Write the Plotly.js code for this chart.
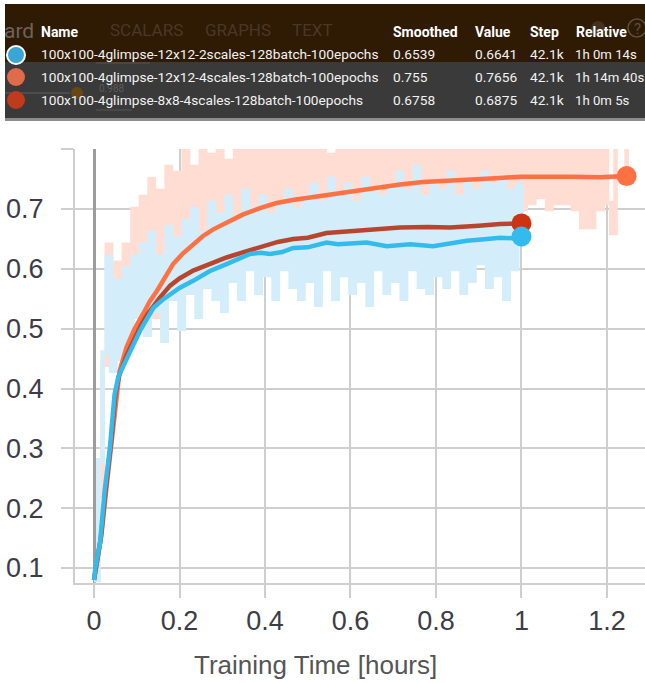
<!DOCTYPE html>
<html><head><meta charset="utf-8">
<script src="https://cdn.plot.ly/plotly-3.0.1.min.js"></script>
<style>html,body{margin:0;padding:0;background:#fff;overflow:hidden}#chart{width:645px;height:683px}</style>
</head><body><div id="chart"></div>
<script>
// ---- data ----
const runNames = ['100x100-4glimpse-12x12-2scales-128batch-100epochs','100x100-4glimpse-12x12-4scales-128batch-100epochs','100x100-4glimpse-8x8-4scales-128batch-100epochs'];
const smoothedCol = ['0.6539','0.755','0.6758'];
const valueCol = ['0.6641','0.7656','0.6875'];
const stepCol = ['42.1k','42.1k','42.1k'];
const relativeCol = ['1h 0m 14s','1h 14m 40s','1h 0m 5s'];

const xTickVals = [0,0.2,0.4,0.6,0.8,1,1.2];
const xTickText = ['0','0.2','0.4','0.6','0.8','1','1.2'];
const yTickVals = [0.1,0.2,0.3,0.4,0.5,0.6,0.7,0.8];
const yTickText = ['0.1','0.2','0.3','0.4','0.5','0.6','0.7',''];

// smoothed curves
const blueT = [0,0.003,0.014,0.025,0.037,0.048,0.057,0.076,0.09,0.108,0.125,0.139,0.16,0.178,0.2,0.232,0.27,0.31,0.34,0.365,0.39,0.412,0.44,0.466,0.5,0.544,0.57,0.6,0.638,0.685,0.74,0.793,0.84,0.872,0.92,0.95,0.98,1.0];
const blueV = [0.08,0.1,0.142,0.23,0.30,0.39,0.42,0.447,0.47,0.497,0.518,0.535,0.548,0.558,0.568,0.58,0.596,0.608,0.617,0.625,0.627,0.625,0.628,0.635,0.636,0.644,0.641,0.642,0.644,0.638,0.641,0.638,0.643,0.647,0.65,0.652,0.651,0.654];
const redT = [0,0.004,0.016,0.027,0.04,0.05,0.058,0.076,0.09,0.108,0.125,0.139,0.154,0.178,0.2,0.232,0.27,0.31,0.35,0.388,0.43,0.466,0.5,0.544,0.6,0.66,0.716,0.78,0.833,0.9,0.95,1.0];
const redV = [0.08,0.1,0.15,0.23,0.31,0.39,0.42,0.455,0.478,0.503,0.524,0.538,0.552,0.572,0.584,0.597,0.608,0.619,0.628,0.636,0.645,0.65,0.652,0.66,0.663,0.666,0.669,0.67,0.669,0.672,0.675,0.676];
const orangeT = [0,0.005,0.018,0.03,0.042,0.053,0.06,0.076,0.095,0.115,0.13,0.147,0.165,0.185,0.207,0.232,0.255,0.279,0.31,0.349,0.39,0.427,0.465,0.505,0.55,0.6,0.65,0.716,0.77,0.833,0.9,0.95,1.0,1.067,1.12,1.184,1.22,1.246];
const orangeV = [0.08,0.1,0.16,0.24,0.32,0.4,0.43,0.469,0.5,0.525,0.545,0.563,0.585,0.608,0.625,0.641,0.655,0.666,0.678,0.691,0.702,0.71,0.715,0.719,0.724,0.73,0.735,0.741,0.745,0.748,0.75,0.752,0.754,0.755,0.754,0.753,0.755,0.755];

// raw (unsmoothed) values
const blueRawT = [0,0.01,0.02,0.03,0.04,0.05,0.06,0.07,0.08,0.09,0.1,0.11,0.12,0.13,0.14,0.15,0.16,0.17,0.18,0.19,0.2,0.21,0.22,0.23,0.24,0.25,0.26,0.27,0.28,0.29,0.3,0.31,0.32,0.33,0.34,0.35,0.36,0.37,0.38,0.39,0.4,0.41,0.42,0.43,0.44,0.45,0.46,0.47,0.48,0.49,0.5,0.51,0.52,0.53,0.54,0.55,0.56,0.57,0.58,0.59,0.6,0.61,0.62,0.63,0.64,0.65,0.66,0.67,0.68,0.69,0.7,0.71,0.72,0.73,0.74,0.75,0.76,0.77,0.78,0.79,0.8,0.81,0.82,0.83,0.84,0.85,0.86,0.87,0.88,0.89,0.9,0.91,0.92,0.93,0.94,0.95,0.96,0.97,0.98,0.99,1.0];
const blueRawV = [0.08,0.28,0.46,0.62,0.43,0.58,0.45,0.60,0.47,0.62,0.52,0.64,0.49,0.66,0.53,0.62,0.48,0.67,0.55,0.65,0.50,0.68,0.56,0.70,0.52,0.66,0.57,0.71,0.55,0.69,0.53,0.72,0.58,0.68,0.55,0.73,0.60,0.70,0.56,0.72,0.59,0.69,0.55,0.71,0.60,0.73,0.57,0.70,0.55,0.72,0.58,0.74,0.54,0.71,0.60,0.75,0.55,0.72,0.59,0.74,0.56,0.71,0.58,0.75,0.54,0.73,0.60,0.72,0.56,0.74,0.58,0.76,0.55,0.73,0.60,0.77,0.57,0.72,0.56,0.74,0.59,0.73,0.57,0.76,0.60,0.72,0.56,0.75,0.58,0.73,0.61,0.76,0.57,0.74,0.59,0.75,0.55,0.73,0.60,0.74,0.664];
const orangeRawT = [0,0.01,0.02,0.03,0.04,0.05,0.06,0.07,0.08,0.09,0.1,0.11,0.12,0.13,0.14,0.15,0.16,0.17,0.18,0.19,0.2,0.21,0.22,0.23,0.24,0.25,0.26,0.27,0.28,0.29,0.3,0.31,0.32,0.33,0.34,0.35,0.36,0.37,0.38,0.39,0.4,0.41,0.42,0.43,0.44,0.45,0.46,0.47,0.48,0.49,0.5,0.51,0.52,0.53,0.54,0.55,0.56,0.57,0.58,0.59,0.6,0.61,0.62,0.63,0.64,0.65,0.66,0.67,0.68,0.69,0.7,0.71,0.72,0.73,0.74,0.75,0.76,0.77,0.78,0.79,0.8,0.81,0.82,0.83,0.84,0.85,0.86,0.87,0.88,0.89,0.9,0.91,0.92,0.93,0.94,0.95,0.96,0.97,0.98,0.99,1.0,1.01,1.02,1.03,1.04,1.05,1.06,1.07,1.08,1.09,1.1,1.11,1.12,1.13,1.14,1.15,1.16,1.17,1.18,1.19,1.2,1.21,1.22,1.23,1.246];
const orangeRawV = [0.08,0.22,0.44,0.64,0.46,0.61,0.50,0.64,0.53,0.70,0.57,0.72,0.60,0.75,0.52,0.73,0.50,0.77,0.58,0.76,0.55,0.80,0.62,0.77,0.60,0.82,0.63,0.79,0.61,0.83,0.65,0.78,0.62,0.82,0.66,0.80,0.63,0.84,0.65,0.81,0.67,0.83,0.64,0.80,0.68,0.84,0.65,0.81,0.62,0.83,0.67,0.80,0.64,0.84,0.68,0.79,0.63,0.82,0.69,0.84,0.57,0.80,0.70,0.83,0.65,0.81,0.68,0.84,0.66,0.82,0.70,0.85,0.67,0.81,0.63,0.83,0.69,0.82,0.66,0.84,0.70,0.81,0.67,0.85,0.69,0.82,0.66,0.84,0.71,0.83,0.68,0.85,0.70,0.82,0.60,0.84,0.69,0.83,0.72,0.85,0.70,0.82,0.71,0.84,0.72,0.81,0.70,0.83,0.71,0.85,0.71,0.82,0.70,0.84,0.67,0.81,0.67,0.83,0.70,0.80,0.71,0.66,0.82,0.84,0.766];

// ---- drawing ----
const C = {blue:'#33bbee', orange:'#ff7043', red:'#b8462f', redDot:'#cc3311'};
const xp = px => (px - 75) / 570;
const yp = py => (583 - py) / 434;

const traces = [
  {x: orangeRawT, y: orangeRawV, mode:'lines', line:{color:'#ffddd3', width:4.6, shape:'hv'}, hoverinfo:'skip'},
  {x: blueRawT, y: blueRawV, mode:'lines', line:{color:'#d3eefa', width:4.6, shape:'hv'}, hoverinfo:'skip'},
  {x: orangeT, y: orangeV, mode:'lines', line:{color:C.orange, width:4.5}},
  {x: redT, y: redV, mode:'lines', line:{color:C.red, width:4.5}},
  {x: blueT, y: blueV, mode:'lines', line:{color:C.blue, width:4.5}},
  {x: [orangeT[orangeT.length-1]], y: [orangeV[orangeV.length-1]], mode:'markers', marker:{color:C.orange, size:20}},
  {x: [redT[redT.length-1]], y: [redV[redV.length-1]], mode:'markers', marker:{color:C.redDot, size:20}},
  {x: [blueT[blueT.length-1]], y: [blueV[blueV.length-1]], mode:'markers', marker:{color:C.blue, size:20}}
];

const tickFont = {family:'Liberation Sans, Arial, sans-serif', size:27, color:'#3d3d48'};
const gridC = '#cfcfcf';

const shapes = [
  {type:'rect', xref:'paper', yref:'paper', x0:xp(5), x1:xp(660), y0:yp(62), y1:yp(4), fillcolor:'#2f1a04', line:{width:0}, layer:'above'},
  {type:'rect', xref:'paper', yref:'paper', x0:xp(5), x1:xp(660), y0:yp(118), y1:yp(62), fillcolor:'#3a3a3a', line:{width:0}, layer:'above'},
  {type:'rect', xref:'paper', yref:'paper', x0:xp(5), x1:xp(660), y0:yp(121), y1:yp(118), fillcolor:'#8c8c8c', line:{width:0}, layer:'above'},
  {type:'line', xref:'paper', yref:'paper', x0:xp(5), x1:xp(70), y0:yp(93), y1:yp(93), line:{color:'#4c4c4c', width:2}, layer:'above'},
  {type:'circle', xref:'paper', yref:'paper', x0:xp(71), x1:xp(83), y0:yp(99), y1:yp(87), fillcolor:'#6a4616', line:{width:0}, layer:'above'},
  {type:'line', xref:'paper', yref:'paper', x0:xp(96), x1:xp(150), y0:yp(63), y1:yp(63), line:{color:'#555', width:1}, layer:'above'},
  {type:'line', xref:'paper', yref:'paper', x0:xp(96), x1:xp(132), y0:yp(110), y1:yp(110), line:{color:'#555', width:1}, layer:'above'},
  {type:'circle', xref:'paper', yref:'paper', x0:xp(591), x1:xp(605), y0:yp(35), y1:yp(21), fillcolor:'#43321f', line:{width:0}, layer:'above'},
  {type:'circle', xref:'paper', yref:'paper', x0:xp(628), x1:xp(646), y0:yp(37), y1:yp(19), fillcolor:'rgba(0,0,0,0)', line:{color:'#5e4d3c', width:1.5}, layer:'above'},
  {type:'circle', xref:'paper', yref:'paper', x0:xp(7), x1:xp(25), y0:yp(64), y1:yp(46), fillcolor:'#3aa6d6', line:{color:'#ffffff', width:2}, layer:'above'},
  {type:'circle', xref:'paper', yref:'paper', x0:xp(7), x1:xp(25), y0:yp(86), y1:yp(68), fillcolor:'#e06b4a', line:{width:0}, layer:'above'},
  {type:'circle', xref:'paper', yref:'paper', x0:xp(7), x1:xp(25), y0:yp(109), y1:yp(91), fillcolor:'#c03a1e', line:{width:0}, layer:'above'}
];

const rowY = [54, 77, 100];
const hf = {family:'Roboto, sans-serif', size:13.7, color:'#f2f2f2'};
const hf2 = {family:'Roboto, sans-serif', size:13.2, color:'#f2f2f2'};
const hb = {family:'Roboto, sans-serif', size:14, color:'#ffffff', weight:'bold'};
function ann(text, px, py, font, anchor){
  return {text:text, xref:'paper', yref:'paper', x:xp(px), y:yp(py), xanchor:anchor||'left', yanchor:'middle', showarrow:false, font:font};
}
const annotations = [
  ann('ard', 36, 31, {family:'Roboto, sans-serif', size:21, color:'#6c645c'}, 'right'),
  ann('SCALARS', 108, 30, {family:'Roboto, sans-serif', size:17, color:'#4a3824'}),
  ann('GRAPHS', 203, 30, {family:'Roboto, sans-serif', size:17, color:'#4a3824'}),
  ann('TEXT', 290, 30, {family:'Roboto, sans-serif', size:17, color:'#4a3824'}),
  ann('0.988', 97, 88.5, {family:'Roboto, sans-serif', size:10, color:'#5a5a5a'}),
  ann('?', 637, 29, {family:'Roboto, sans-serif', size:15, color:'#5e4d3c'}, 'center'),
  ann('<b>Name</b>', 39, 32, hb),
  ann('<b>Smoothed</b>', 391, 32, hb),
  ann('<b>Value</b>', 473, 32, hb),
  ann('<b>Step</b>', 528, 32, hb),
  ann('<b>Relative</b>', 574, 32, hb),
  ann('Training Time [hours]', 315, 665, {family:'Liberation Sans, Arial, sans-serif', size:26, color:'#555555'}, 'center')
];
for (let i = 0; i < 3; i++) {
  annotations.push(ann(runNames[i], 39, rowY[i], hf));
  annotations.push(ann(smoothedCol[i], 391, rowY[i], hf));
  annotations.push(ann(valueCol[i], 473, rowY[i], hf));
  annotations.push(ann(stepCol[i], 528, rowY[i], hf));
  annotations.push(ann(relativeCol[i], 573, rowY[i], hf2));
}

const layout = {
  width:645, height:683,
  margin:{l:75, r:0, t:149, b:100, pad:0},
  paper_bgcolor:'#ffffff', plot_bgcolor:'#ffffff',
  showlegend:false,
  xaxis:{range:[-0.0445,1.289], tickvals:xTickVals, ticktext:xTickText, tickfont:tickFont,
    showgrid:true, gridcolor:gridC, gridwidth:2, showline:true, linecolor:gridC, linewidth:2,
    ticks:'outside', ticklen:13, tickwidth:2, tickcolor:gridC, ticklabelstandoff:0,
    zeroline:true, zerolinecolor:'#9c9c9c', zerolinewidth:3, fixedrange:true},
  yaxis:{range:[0.075,0.8003], tickvals:yTickVals, ticktext:yTickText, tickfont:tickFont,
    showgrid:true, gridcolor:gridC, gridwidth:2, showline:true, linecolor:gridC, linewidth:2,
    ticks:'outside', ticklen:12, tickwidth:2, tickcolor:gridC, ticklabelstandoff:12,
    zeroline:false, fixedrange:true},
  shapes:shapes,
  annotations:annotations
};
Plotly.newPlot('chart', traces, layout, {displayModeBar:false, staticPlot:true});
</script></body></html>
